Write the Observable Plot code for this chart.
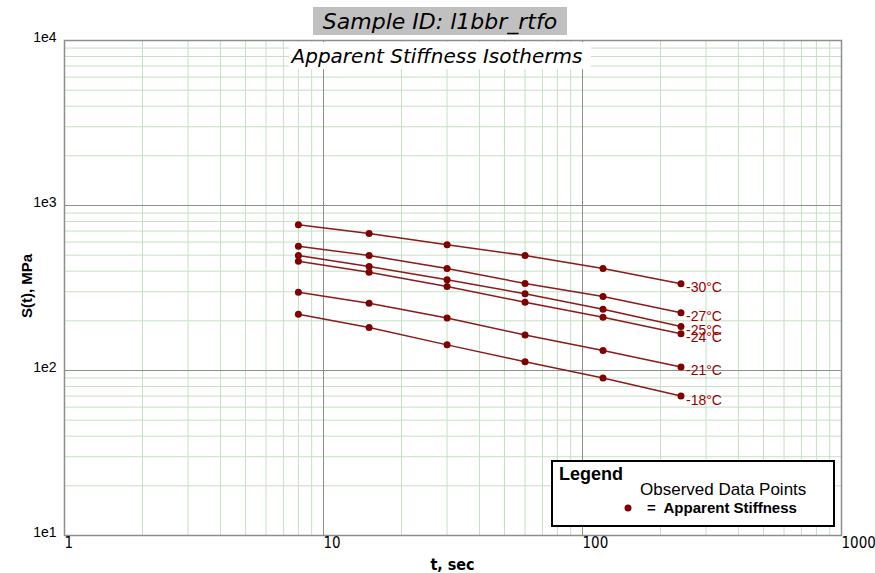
<!DOCTYPE html>
<html>
<head>
<meta charset="utf-8">
<script src="https://cdn.jsdelivr.net/npm/d3@7"></script>
<script src="https://cdn.jsdelivr.net/npm/@observablehq/plot@0.6"></script>
<style>
  html, body { margin: 0; padding: 0; background: #fff; }
  #chart svg { display: block; }
</style>
</head>
<body>
<div id="chart"></div>
<script>
// ---- data ----
const times = [8, 15, 30, 60, 120, 240];             // t, sec
const temps = [-30, -27, -25, -24, -21, -18];        // isotherm °C
const s_m30 = [764, 676, 578, 498, 415, 336];
const s_m27 = [567, 498, 415, 337, 281, 224];
const s_m25 = [498, 427, 355, 292, 235, 185];
const s_m24 = [460, 394, 323, 259, 210, 167];
const s_m21 = [298, 256, 208, 164, 132, 105];
const s_m18 = [219, 182, 143, 113, 90, 70];
const seriesValues = [s_m30, s_m27, s_m25, s_m24, s_m21, s_m18];

const xTicks = [1, 10, 100, 1000];
const yTicks = [10, 100, 1000, 10000];
const xTickLabels = ["1", "10", "100", "1000"];
const yTickLabels = ["1e1", "1e2", "1e3", "1e4"];

const titleText = "Sample ID: l1bbr_rtfo";
const subtitleText = "Apparent Stiffness Isotherms";
const xLabel = "t, sec";
const yLabel = "S(t), MPa";

// ---- derived tables ----
const data = [];
temps.forEach((T, i) => times.forEach((t, j) => data.push({temp: T, t, S: seriesValues[i][j]})));
const minorOf = (lo, hi) => {
  const out = [];
  for (let d = lo; d < hi; d *= 10) for (let k = 2; k <= 9; k++) out.push(d * k);
  return out;
};
const xMinor = minorOf(1, 1000);
const yMinor = minorOf(10, 10000);
const xMajor = [10, 100];
const yMajor = [100, 1000];

const W = 875, H = 573;
const narrow = "'Liberation Sans Narrow', 'Arial Narrow', 'DejaVu Sans Condensed', sans-serif";

const chart = Plot.plot({
  width: W,
  height: H,
  marginLeft: 64,
  marginRight: 34,
  marginTop: 40,
  marginBottom: 38,
  style: {fontFamily: "'Liberation Sans', Arial, sans-serif", background: "#fff", overflow: "visible"},
  x: {type: "log", domain: [1, 1000]},
  y: {type: "log", domain: [10, 10000]},
  marks: [
    Plot.ruleX(xMinor, {stroke: "#c4dfc4", strokeWidth: 1}),
    Plot.ruleY(yMinor, {stroke: "#c4dfc4", strokeWidth: 1}),
    Plot.ruleX(xMajor, {stroke: "#8e8e8e", strokeWidth: 1}),
    Plot.ruleY(yMajor, {stroke: "#8e8e8e", strokeWidth: 1}),
    Plot.frame({stroke: "#8e8e8e", strokeWidth: 1.5}),
    Plot.axisX(xTicks, {
      tickSize: 0, tickPadding: 2, textAnchor: "start",
      tickFormat: (d) => xTickLabels[xTicks.indexOf(d)],
      fontSize: 15, fontFamily: narrow, fill: "#000", label: null
    }),
    Plot.axisY(yTicks, {
      tickSize: 0, tickPadding: 8, dy: -3,
      tickFormat: (d) => yTickLabels[yTicks.indexOf(d)],
      fontSize: 14, fill: "#000", label: null
    }),
    Plot.line(data, {x: "t", y: "S", z: "temp", stroke: "#8b1a1a", strokeWidth: 1.5}),
    Plot.dot(data, {x: "t", y: "S", fill: "#800000", r: 3.5}),
    Plot.text(data, Plot.selectLast({
      x: "t", y: "S", z: "temp",
      text: (d) => `${d.temp}°C`,
      textAnchor: "start", dx: 5, dy: 4,
      fill: "#990000", fontSize: 14
    }))
  ]
});

const svg = d3.select(chart);
const plotCx = (64 + (W - 34)) / 2;

// title box
const tg = svg.append("g");
tg.append("rect").attr("x", 313).attr("y", 7).attr("width", 254).attr("height", 28).attr("fill", "#c0c0c0");
tg.append("text").attr("x", 440).attr("y", 21).attr("text-anchor", "middle").attr("dominant-baseline", "central")
  .attr("font-family", "'DejaVu Sans', sans-serif").attr("font-style", "italic").attr("font-size", 22)
  .attr("fill", "#000").text(titleText);

// subtitle box
const sg = svg.append("g");
sg.append("rect").attr("x", 289).attr("y", 42).attr("width", 302).attr("height", 27).attr("fill", "#fff");
sg.append("text").attr("x", 437).attr("y", 56).attr("text-anchor", "middle").attr("dominant-baseline", "central")
  .attr("font-family", "'DejaVu Sans', sans-serif").attr("font-style", "italic").attr("font-size", 20)
  .attr("fill", "#000").text(subtitleText);

// axis labels
svg.append("text").attr("x", plotCx).attr("y", 564).attr("text-anchor", "middle").attr("dominant-baseline", "central")
  .attr("font-family", narrow).attr("font-weight", "bold").attr("font-size", 16).attr("fill", "#000").text(xLabel);
svg.append("text").attr("transform", "translate(26,286) rotate(-90)").attr("text-anchor", "middle")
  .attr("dominant-baseline", "central").attr("font-weight", "bold").attr("font-size", 15)
  .attr("fill", "#000").text(yLabel);

// legend
const lg = svg.append("g").attr("text-anchor", "start");
lg.append("rect").attr("x", 552).attr("y", 461).attr("width", 282).attr("height", 65)
  .attr("fill", "#fff").attr("stroke", "#000").attr("stroke-width", 2);
lg.append("text").attr("x", 559).attr("y", 480).attr("text-anchor", "start").attr("font-weight", "bold").attr("font-size", 18)
  .attr("fill", "#000").text("Legend");
lg.append("text").attr("x", 640).attr("y", 495).attr("text-anchor", "start").attr("font-size", 17).attr("fill", "#000").text("Observed Data Points");
lg.append("circle").attr("cx", 628).attr("cy", 508).attr("r", 3.5).attr("fill", "#800000");
lg.append("text").attr("x", 647).attr("y", 513).attr("text-anchor", "start").attr("font-weight", "bold").attr("font-size", 15)
  .attr("fill", "#000").style("white-space", "pre").text("=  Apparent Stiffness");

document.getElementById("chart").appendChild(chart);
</script>
</body>
</html>
